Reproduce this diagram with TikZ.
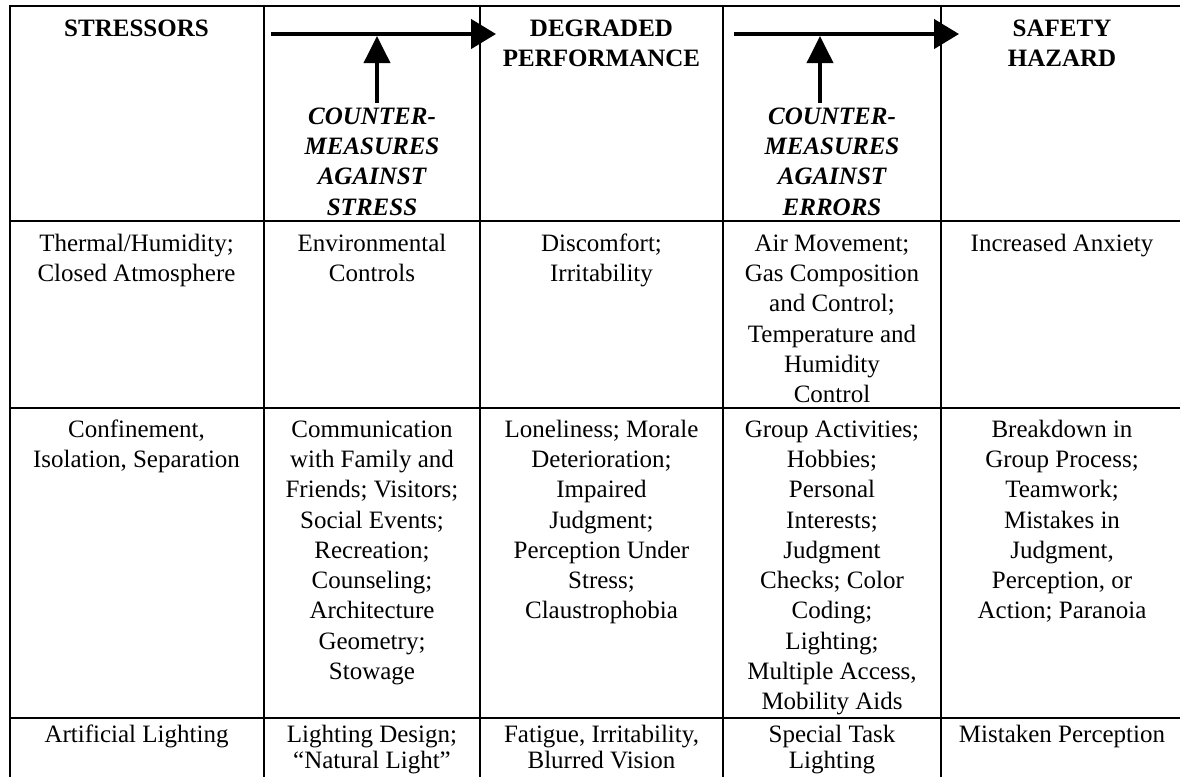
\documentclass[tikz,border=0pt]{standalone}
\usepackage{fontspec}
\setmainfont{Liberation Serif}
\usetikzlibrary{arrows.meta}
\begin{document}
\begin{tikzpicture}[x=0.48pt,y=-0.48pt,
  tablerule/.style={line width=0.95pt},
  celltext/.style={anchor=north,inner sep=0pt,align=center,font=\fontsize{12}{14.5}\selectfont},
  lastrow/.style={celltext,font=\fontsize{12}{12.5}\selectfont},
  headtext/.style={celltext,font=\fontsize{12}{14.5}\selectfont\bfseries},
  cmtext/.style={celltext,font=\fontsize{12}{14.5}\selectfont\bfseries\itshape},
  flowarrow/.style={line width=1.9pt,-{Triangle[length=12pt,width=14pt]}},
  risearrow/.style={line width=1.9pt,-{Triangle[length=13pt,width=12.5pt]}}]
\useasboundingbox (0,0) rectangle (1180,776);
\clip (0,0) rectangle (1180,776);

% table rules
\draw[tablerule] (10,6) rectangle (1183,790);
\foreach \yy in {221,408,718} \draw[tablerule] (10,\yy) -- (1183,\yy);
\foreach \xx in {264,480,723,941} \draw[tablerule] (\xx,6) -- (\xx,790);

% header row
\node[headtext] (hStress) at (136.5,15) {\strut STRESSORS};
\node[cmtext]   (cmStress) at (372,103) {\strut COUNTER-\\MEASURES\\AGAINST\\STRESS};
\node[headtext] (hDeg) at (601.5,15) {\strut DEGRADED\\PERFORMANCE};
\node[cmtext]   (cmErr) at (832,103) {\strut COUNTER-\\MEASURES\\AGAINST\\ERRORS};
\node[headtext] (hHaz) at (1062,15) {\strut SAFETY\\HAZARD};

% flow arrows in the header
\coordinate (f1s) at (271,34);  \coordinate (f1e) at (496,34);
\coordinate (f2s) at (734,34);  \coordinate (f2e) at (959,34);
\coordinate (r1b) at (377,103); \coordinate (r1t) at (377,36);
\coordinate (r2b) at (820,103); \coordinate (r2t) at (820,36);
\draw[flowarrow] (f1s) -- (f1e);
\draw[flowarrow] (f2s) -- (f2e);
\draw[risearrow] (r1b) -- (r1t);
\draw[risearrow] (r2b) -- (r2t);

% row 1
\node[celltext] (a1) at (136.5,230) {\strut Thermal/Humidity;\\Closed Atmosphere};
\node[celltext] (a2) at (372,230) {\strut Environmental\\Controls};
\node[celltext] (a3) at (601.5,230) {\strut Discomfort;\\Irritability};
\node[celltext] (a4) at (832,230) {\strut Air Movement;\\Gas Composition\\and Control;\\Temperature and\\Humidity\\Control};
\node[celltext] (a5) at (1062,230) {\strut Increased Anxiety};

% row 2
\node[celltext] (b1) at (136.5,416) {\strut Confinement,\\Isolation, Separation};
\node[celltext] (b2) at (372,416) {\strut Communication\\with Family and\\Friends; Visitors;\\Social Events;\\Recreation;\\Counseling;\\Architecture\\Geometry;\\Stowage};
\node[celltext] (b3) at (601.5,416) {\strut Loneliness; Morale\\Deterioration;\\Impaired\\Judgment;\\Perception Under\\Stress;\\Claustrophobia};
\node[celltext] (b4) at (832,416) {\strut Group Activities;\\Hobbies;\\Personal\\Interests;\\Judgment\\Checks; Color\\Coding;\\Lighting;\\Multiple Access,\\Mobility Aids};
\node[celltext] (b5) at (1062,416) {\strut Breakdown in\\Group Process;\\Teamwork;\\Mistakes in\\Judgment,\\Perception, or\\Action; Paranoia};

% row 3
\node[lastrow] (c1) at (136.5,724) {\strut Artificial Lighting};
\node[lastrow] (c2) at (372,724) {\strut Lighting Design;\\“Natural Light”};
\node[lastrow] (c3) at (601.5,724) {\strut Fatigue, Irritability,\\Blurred Vision};
\node[lastrow] (c4) at (832,724) {\strut Special Task\\Lighting};
\node[lastrow] (c5) at (1062,724) {\strut Mistaken Perception};
\end{tikzpicture}
\end{document}
